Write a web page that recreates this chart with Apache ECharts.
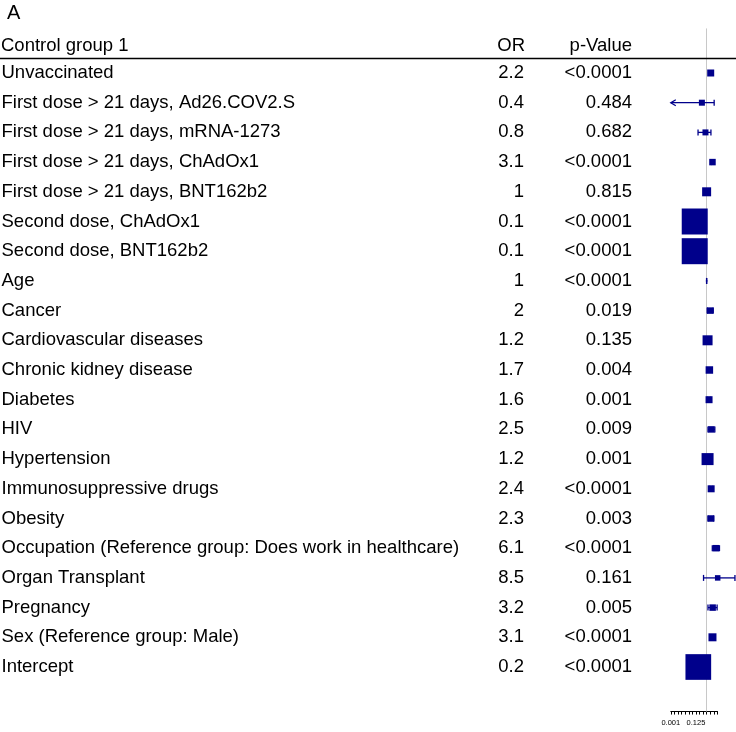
<!DOCTYPE html>
<html>
<head>
<meta charset="utf-8">
<script src="https://cdn.jsdelivr.net/npm/echarts@6/dist/echarts.min.js"></script>
<style>html,body{margin:0;padding:0;background:#fff}#c{width:736px;height:732px}</style>
</head>
<body>
<div id="c"></div>
<script>
const rowNames = ['Unvaccinated','First dose > 21 days, Ad26.COV2.S','First dose > 21 days, mRNA-1273','First dose > 21 days, ChAdOx1','First dose > 21 days, BNT162b2','Second dose, ChAdOx1','Second dose, BNT162b2','Age','Cancer','Cardiovascular diseases','Chronic kidney disease','Diabetes','HIV','Hypertension','Immunosuppressive drugs','Obesity','Occupation (Reference group: Does work in healthcare)','Organ Transplant','Pregnancy','Sex (Reference group: Male)','Intercept'];
const oddsRatio = [2.2,0.4,0.8,3.1,1,0.1,0.1,1,2,1.2,1.7,1.6,2.5,1.2,2.4,2.3,6.1,8.5,3.2,3.1,0.2];
const pValues = ['<0.0001','0.484','0.682','<0.0001','0.815','<0.0001','<0.0001','<0.0001','0.019','0.135','0.004','0.001','0.009','0.001','<0.0001','0.003','<0.0001','0.161','0.005','<0.0001','<0.0001'];
const ciLower = [1.9,0.0003,0.19,2.5,0.85,0.09,0.09,0.99,1.12,0.95,1.2,1.2,1.3,1.08,1.8,1.3,3.0,0.55,1.3,2.4,0.18];
const ciUpper = [2.6,4.3,2.3,3.9,1.2,0.11,0.11,1.01,3.6,1.5,2.4,2.1,4.9,1.34,3.2,4.0,12,240,7.6,4.0,0.22];
const weight = [7,6,6,6.5,9,26,26,1.5,6.5,10,7.5,7,6.5,12,7,6.5,6.5,5.5,6.5,8,25.7];
const tickExponents = [-10,-3];
const tickLabels = ['0.001','0.125'];

const FONT = 'Liberation Sans, Arial, Helvetica, sans-serif';
const NAVY = '#00008b';
const FS = 18.5;
const log2 = v => Math.log(v) / Math.LN2;

const cats = [''].concat(rowNames, ['']);
const orCats = [''].concat(oddsRatio.map(String), ['']);
const pCats = [''].concat(pValues, ['']);

const gridLeft = 670.8;
const rowH = 29.7;
const gridTop = 73 - rowH * 1.5;
const gridH = rowH * cats.length;

const boxData = oddsRatio.map((v, i) => [log2(v), i + 1, weight[i]]);
const ciData = oddsRatio.map((v, i) => [log2(ciLower[i]), i + 1, log2(ciUpper[i])]);

function catAxis(data, align, margin) {
  return {type: 'category', gridIndex: 0, position: 'left', offset: 0, data: data, inverse: true,
    axisLine: {show: false}, axisTick: {show: false}, splitLine: {show: false},
    axisLabel: {interval: 0, align: align, margin: margin, fontSize: FS, color: '#000', fontFamily: FONT, padding: [5, 0, 0, 0]}};
}

const chart = echarts.init(document.getElementById('c'), null, {renderer: 'canvas'});
chart.setOption({
  animation: false,
  backgroundColor: '#fff',
  textStyle: {fontFamily: FONT},
  grid: [
    {left: gridLeft, right: 0, top: gridTop, height: gridH, outerBoundsMode: 'none', containLabel: false},
    {left: gridLeft, width: 13 * 3.59, top: gridTop + gridH - 12, height: 12, outerBoundsMode: 'none', containLabel: false}
  ],
  xAxis: [
    {type: 'value', gridIndex: 0, min: -10, max: 8.2,
     axisLine: {show: false}, axisTick: {show: false}, axisLabel: {show: false}, splitLine: {show: false}},
    {type: 'value', gridIndex: 1, min: -10, max: 3, interval: 1,
     axisLine: {show: true, lineStyle: {color: '#000', width: 1}},
     axisTick: {show: true, length: 3, lineStyle: {color: '#000', width: 1}},
     splitLine: {show: false},
     axisLabel: {show: true, margin: 7, fontSize: 7.5, color: '#000', fontFamily: FONT,
       formatter: v => { const k = tickExponents.indexOf(v); return k >= 0 ? tickLabels[k] : ''; }}}
  ],
  yAxis: [
    catAxis(cats, 'left', gridLeft - 1.5),
    catAxis(orCats, 'right', gridLeft - 524),
    catAxis(pCats, 'right', gridLeft - 632),
    {type: 'value', gridIndex: 1, show: false}
  ],
  series: [
    {
      type: 'custom', xAxisIndex: 0, yAxisIndex: 0, z: 2,
      data: ciData, encode: {x: [0, 2], y: 1},
      renderItem: function (params, api) {
        const cs = params.coordSys;
        const lo = api.coord([api.value(0), api.value(1)]);
        const hi = api.coord([api.value(2), api.value(1)]);
        const y = lo[1];
        const xMin = cs.x, xMax = cs.x + cs.width;
        let x0 = lo[0], x1 = hi[0];
        const style = {stroke: NAVY, lineWidth: 1.3, fill: null};
        const children = [];
        const loClip = x0 < xMin;
        x0 = Math.max(x0, xMin); x1 = Math.min(x1, xMax - 1);
        children.push({type: 'line', shape: {x1: x0, y1: y, x2: x1, y2: y}, style: style});
        if (loClip) {
          children.push({type: 'polyline', shape: {points: [[x0 + 5, y - 3], [x0, y], [x0 + 5, y + 3]]}, style: style});
        } else {
          children.push({type: 'line', shape: {x1: x0, y1: y - 3, x2: x0, y2: y + 3}, style: style});
        }
        children.push({type: 'line', shape: {x1: x1, y1: y - 3, x2: x1, y2: y + 3}, style: style});
        return {type: 'group', children: children};
      },
      markLine: {
        silent: true, symbol: 'none', z: 1,
        label: {show: false},
        lineStyle: {color: '#c8c8c8', width: 1, type: 'solid'},
        data: [{xAxis: 0}]
      }
    },
    {
      type: 'scatter', xAxisIndex: 0, yAxisIndex: 0, z: 3,
      symbol: 'rect',
      symbolSize: d => d[2],
      itemStyle: {color: NAVY, opacity: 1},
      data: boxData
    }
  ],
  graphic: [
    {type: 'text', left: 7, top: 3, style: {text: 'A', font: '20px ' + FONT, fill: '#000'}},
    {type: 'text', x: 1, y: 46, style: {text: 'Control group 1', font: FS + 'px ' + FONT, fill: '#000', textAlign: 'left', textVerticalAlign: 'middle'}},
    {type: 'text', x: 525, y: 46, style: {text: 'OR', font: FS + 'px ' + FONT, fill: '#000', textAlign: 'right', textVerticalAlign: 'middle'}},
    {type: 'text', x: 632, y: 46, style: {text: 'p-Value', font: FS + 'px ' + FONT, fill: '#000', textAlign: 'right', textVerticalAlign: 'middle'}},
    {type: 'line', shape: {x1: 0, y1: 58.5, x2: 736, y2: 58.5}, style: {stroke: '#000', lineWidth: 1.3}, z: 10}
  ]
});
</script>
</body>
</html>
